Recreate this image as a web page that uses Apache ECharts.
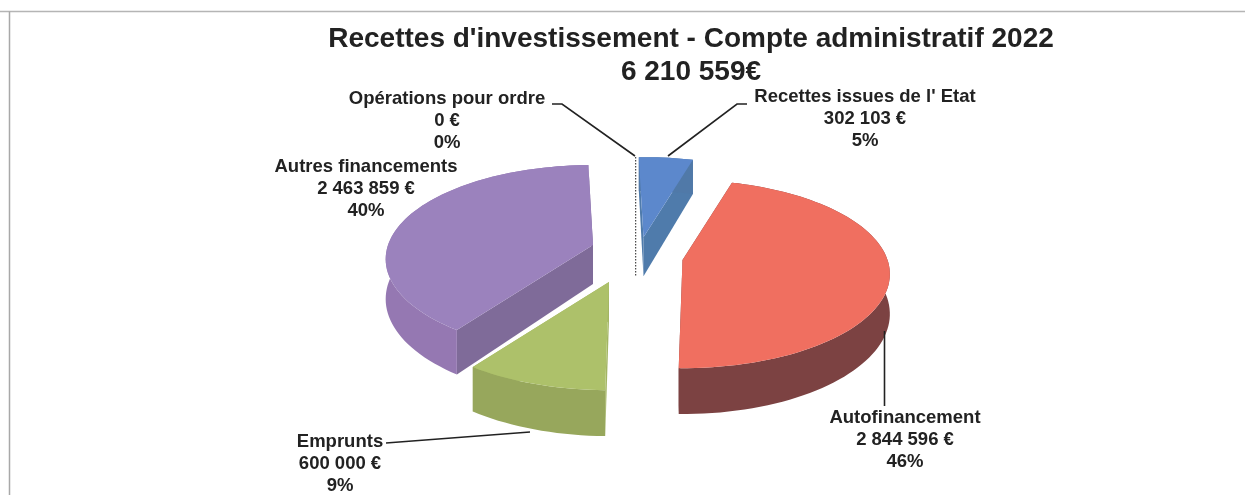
<!DOCTYPE html>
<html>
<head>
<meta charset="utf-8">
<style>
  html, body { margin: 0; padding: 0; background: #fff; }
  #chart { width: 1245px; height: 495px; }
</style>
<script src="https://cdn.jsdelivr.net/npm/echarts@6/dist/echarts.min.js"></script>
</head>
<body>
<div id="chart"></div>
<script>
// data
const categories = ['Opérations pour ordre', "Recettes issues de l' Etat", 'Autofinancement', 'Emprunts', 'Autres financements'];
const values = [0, 302103, 2844596, 600000, 2463859];
const percents = [0, 5, 46, 9, 40];
const chartTitle = "Recettes d'investissement - Compte administratif 2022\n6 210 559€";

// colours per slice: top face, rim wall, cut wall
const topColors = ['#555555', '#5c88cc', '#f06f60', '#adc16a', '#9b82bd'];
const rimColors = ['#555555', '#5079a8', '#7c4242', '#97a75c', '#9578b2'];
const cutColors = ['#555555', '#4f7bab', '#7c4242', '#a3b564', '#7f6b99'];

// how far each slice is pulled out, and in which direction (null = its middle)
const explodeBy = [1, 1, 1, 1.406, 1.166];
const explodeDir = [357, 7, null, 207.3, 301];

// label centres and leader lines
const labelPos = [[447, 121], [865, 119], [905, 440], [340, 464], [366, 189]];
const leaders = [
  [[552, 104], [562, 104], [635, 156]],
  [[747, 104], [737, 104], [668, 156]],
  [[884.5, 331], [884.5, 406]],
  [[386, 443], [530, 432]],
  null
];

// pie projection
const cx = 638, cy = 257;
const radiusX = 205, radiusY = 92, persp = 0.15, depth = 39;
const explodeX = 45, explodeY = 20;
const firstAngle = -1.5;

const total = values.reduce((a, b) => a + b, 0);
const fmt = v => String(v).replace(/\B(?=(\d{3})+$)/g, ' ');

// slice angles, clockwise from the back of the pie
const startAngles = [];
let acc = firstAngle;
values.forEach(v => { startAngles.push(acc); acc += v / total * 360; });

function project(apex, deg, r) {
  const t = deg * Math.PI / 180;
  const u = r * Math.sin(t), v = r * Math.cos(t);
  const s = 1 / (1 + persp * v);
  return { x: apex[0] + radiusX * u * s, y: apex[1] - radiusY * v * s, drop: depth * s };
}
const flat = p => [p.x, p.y];
const low = p => [p.x, p.y + p.drop];

function renderItem(params) {
  const i = params.dataIndex;
  const a0 = startAngles[i], a1 = a0 + values[i] / total * 360;
  const dir = (explodeDir[i] === null ? (a0 + a1) / 2 : explodeDir[i]) * Math.PI / 180;
  const apex = [cx + explodeX * explodeBy[i] * Math.sin(dir), cy - explodeY * explodeBy[i] * Math.cos(dir)];
  const children = [];

  if (values[i] === 0) {
    // empty slice only leaves a dotted edge
    const tip = project(apex, 0, 1), inner = project(apex, 0, 0);
    children.push({
      type: 'polyline',
      shape: { points: [flat(tip), low(inner)] },
      style: { stroke: '#444', lineWidth: 1.2, lineDash: [1.5, 1.5], fill: null }
    });
  } else {
    const steps = Math.max(4, Math.ceil((a1 - a0) / 2));
    const rim = [];
    for (let k = 0; k <= steps; k++) rim.push(project(apex, a0 + (a1 - a0) * k / steps, 1));
    const centre = project(apex, 0, 0);

    [rim[0], rim[steps]].forEach(p => {
      children.push({
        type: 'polygon',
        shape: { points: [flat(centre), flat(p), low(p), low(centre)] },
        style: { fill: cutColors[i] }
      });
    });
    children.push({
      type: 'polygon',
      shape: { points: rim.map(flat).concat(rim.slice().reverse().map(low)) },
      style: { fill: rimColors[i] }
    });
    children.push({
      type: 'polygon',
      shape: { points: [flat(centre)].concat(rim.map(flat)) },
      style: { fill: topColors[i] }
    });
  }

  if (leaders[i]) {
    children.push({
      type: 'polyline',
      shape: { points: leaders[i] },
      style: { stroke: '#222', lineWidth: 1.6, fill: null }
    });
  }
  children.push({
    type: 'text',
    style: {
      text: categories[i] + '\n' + fmt(values[i]) + ' €\n' + percents[i] + '%',
      x: labelPos[i][0], y: labelPos[i][1],
      align: 'center', verticalAlign: 'middle',
      fontFamily: '"Liberation Sans", Arial, sans-serif',
      fontWeight: 'bold', fontSize: 18.5, lineHeight: 22, fill: '#222'
    }
  });
  return { type: 'group', children: children };
}

const chart = echarts.init(document.getElementById('chart'));
chart.setOption({
  backgroundColor: '#fff',
  animation: false,
  title: {
    text: chartTitle,
    left: 686, top: 18, textAlign: 'center',
    textStyle: {
      fontFamily: '"Liberation Sans", Arial, sans-serif',
      fontWeight: 'bold', fontSize: 28, lineHeight: 33, color: '#222'
    }
  },
  // scan frame
  graphic: [
    { type: 'line', shape: { x1: 0, y1: 11.5, x2: 1245, y2: 11.5 }, style: { stroke: '#b5b5b5', lineWidth: 1.5 } },
    { type: 'line', shape: { x1: 9.5, y1: 11.5, x2: 9.5, y2: 495 }, style: { stroke: '#a8a8a8', lineWidth: 1.5 } }
  ],
  series: [{
    type: 'custom',
    coordinateSystem: 'none',
    renderItem: renderItem,
    data: values
  }]
});
</script>
</body>
</html>
